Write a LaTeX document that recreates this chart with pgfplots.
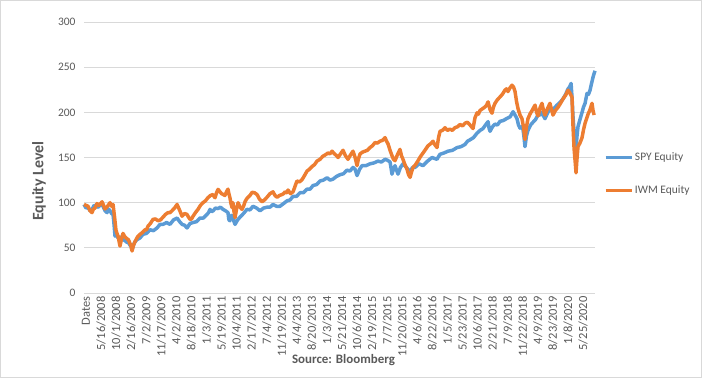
\documentclass[border=0pt]{standalone}
\usepackage{fontspec}
\setmainfont{Carlito}
\usepackage{pgfplots}
\pgfplotsset{compat=1.18}
\definecolor{spy}{HTML}{5B9BD5}
\definecolor{iwm}{HTML}{ED7D31}
\definecolor{txt}{HTML}{595959}
\definecolor{gridc}{HTML}{D9D9D9}
\begin{document}
\begin{tikzpicture}[x=1bp,y=1bp]
\useasboundingbox (-84,-85) rectangle (618,293);
\draw[gridc,line width=0.75bp] (-83.6,-84.6) rectangle (617.6,292.6);
\begin{axis}[
  at={(0,0)}, anchor=south west,
  scale only axis, width=511bp, height=271bp,
  xmin=0, xmax=3393, ymin=0, ymax=300,
  ytick={0,50,...,300},
  xtick={0,100,...,3300},
  xticklabels={Dates,5/16/2008,10/1/2008,2/16/2009,7/2/2009,11/17/2009,4/2/2010,8/18/2010,1/3/2011,5/19/2011,10/4/2011,2/17/2012,7/4/2012,11/19/2012,4/4/2013,8/20/2013,1/3/2014,5/21/2014,10/6/2014,2/19/2015,7/7/2015,11/20/2015,4/6/2016,8/22/2016,1/5/2017,5/23/2017,10/6/2017,2/21/2018,7/9/2018,11/22/2018,4/9/2019,8/23/2019,1/8/2020,5/25/2020},
  axis line style={draw=none},
  major tick length=0pt,
  ymajorgrids, grid style={gridc, line width=0.75bp},
  /pgf/number format/assume math mode=true,
  tick label style={text=txt},
  yticklabel style={anchor=east, xshift=-5bp, font=\fontsize{11.5}{11.5}\selectfont},
  xticklabel style={rotate=90, anchor=east, yshift=-2bp, font=\fontsize{12.5}{12.5}\selectfont},
  legend style={at={(1.018,0.439)}, anchor=west, draw=none, fill=none,
    font=\fontsize{11.5}{11.5}\selectfont, text=txt, row sep=20bp, inner sep=0pt},
  legend cell align=left,
  legend image code/.code={\draw[#1, line width=2.6pt] (0bp,0bp) -- (26bp,0bp);},
  clip=false,
]
\addplot[spy, line width=3.5pt, line join=round] table {
0 98
14 94
27 95
40 91
53 92
66 97
80 96
96 95
113 99
126 96
140 91
153 89
163 93
173 91
183 88
193 87
200 75
206 63
216 64
226 61
242 62
259 59
272 58
286 56
295 56
305 53
312 52
319 48
335 56
352 59
372 61
392 65
415 66
438 70
461 69
485 72
505 76
525 76
548 78
571 76
595 81
618 83
635 79
651 76
668 75
684 72
704 77
724 78
747 79
770 83
793 83
817 87
827 89
837 92.6
847 90
857 91
873 94
890 93.5
906 95
923 92.6
940 91
956 89
962 81
969 80
979 86
989 84
996 79
1003 76
1020 81
1036 84
1059 88
1082 92.6
1102 92
1122 96
1146 94
1169 91
1192 94
1215 95
1235 95
1255 98
1278 96
1301 96
1325 99
1348 102
1368 103
1388 107
1411 107
1434 111
1457 111
1481 115
1501 115
1521 119
1544 120
1567 124
1590 125
1614 127.6
1633 125
1653 126
1676 129
1700 131
1723 132
1746 136
1766 135
1786 139
1800 137
1813 130
1830 137
1846 141
1872 141
1899 143
1925 144
1952 146
1975 145
1999 148
2015 147
2032 145
2040 137
2045 131.6
2055 137
2065 141
2075 136
2085 131.6
2101 139
2118 143
2141 139
2165 134
2181 139
2198 139
2224 143
2251 141
2281 146
2311 150
2327 149
2344 148
2354 151
2364 153.6
2390 155
2417 157
2447 158
2477 161
2503 162
2530 164.5
2546 168
2563 169.6
2586 172
2610 177
2630 180
2649 182
2666 186
2683 189.7
2690 182
2696 179
2712 184
2729 187
2745 186
2762 190
2785 191
2809 193.4
2829 195
2849 200.7
2862 197
2875 193
2885 186
2895 182.5
2905 184
2915 181
2922 172
2928 162
2938 174
2948 180
2965 186
2981 189
2998 192
3015 197.5
3028 197
3041 200
3051 196
3061 193
3077 199
3094 204
3118 204
3141 208
3161 211
3181 215
3198 220
3214 226
3224 228
3234 232
3241 215
3247 195
3257 172
3267 159
3273 173
3280 184
3293 192
3307 200
3317 206
3327 210
3334 216
3340 221
3350 220
3360 224.5
3370 232
3380 239
3387 243
3393 246
};
\addlegendentry{SPY Equity}
\addplot[iwm, line width=3.5pt, line join=round] table {
0 98
14 97
27 96
40 91
53 89
63 93
73 94
86 99
100 97
110 99
120 101
130 97
139 93
156 96
173 100
183 96
193 98
203 84
212 70
219 66
226 63
232 58
239 52
249 60
259 66
272 62
286 60
295 59
305 55
312 52
319 46.5
329 53
339 57
355 62
372 65
388 67
405 70
415 70
425 74
441 77
458 81.5
474 82
491 80
508 81
525 84
541 87
558 89
571 89
584 91
601 94
618 98
634 92
651 85
667 88
684 87
694 84
704 81.5
714 82
724 85
740 89
757 92.6
773 97
790 100
806 102
823 105.5
840 108
857 109
863 107
870 105.5
880 111
890 114.7
913 110
936 108
946 112
956 115
962 110
969 105.5
976 99
983 94.5
986 98
989 100
996 90
1003 83.5
1013 93
1023 100
1036 95
1049 92.6
1059 96
1069 101
1079 104
1089 106
1102 108
1116 111.5
1132 111
1149 109
1165 104
1182 101
1198 103
1215 106
1235 110
1255 112
1268 108
1282 106
1298 108
1315 109
1325 110
1335 112
1345 111
1355 114
1371 110
1388 112
1401 118
1414 124
1431 123
1448 125.5
1464 130
1481 135
1497 137
1514 140
1530 142
1547 146
1567 148
1587 151.5
1603 153
1620 155
1633 154
1647 157
1657 155
1667 153.5
1677 152
1687 150
1703 154
1720 158
1736 152
1753 148
1770 153
1786 157
1800 150
1813 141
1823 149
1833 154
1850 156
1866 157
1882 158
1899 161
1915 163
1932 166.5
1948 166
1965 168
1982 169
1999 172
2009 168
2019 165
2032 158
2045 152
2055 148
2065 146.5
2081 153
2098 159
2108 152
2118 148
2131 142
2145 137
2155 131
2165 128
2175 134
2185 139
2201 142
2218 146.5
2234 151
2251 155
2268 159
2284 163
2300 165
2317 168
2330 164
2344 161
2354 172
2364 179
2380 180
2397 183
2413 180
2430 181.5
2446 180
2463 183
2480 184
2497 186.6
2513 185
2530 188
2546 189
2563 186
2573 184
2583 182
2596 194
2610 199.5
2619 198
2629 202
2646 204
2663 206
2673 208
2683 211.6
2696 203
2709 199
2719 206
2729 210
2745 214
2762 217
2778 220
2795 224.5
2805 226
2815 223
2828 227
2842 230
2852 228
2862 223
2872 212
2882 204
2895 197
2908 193
2918 184
2928 170
2938 184
2948 193
2961 198
2975 202
2985 205
2995 208
3005 200
3015 196
3028 205
3041 210
3051 202
3061 197
3077 204
3094 210
3104 203
3114 197
3130 202
3147 205.5
3164 210
3181 215
3198 219
3214 224.5
3227 221
3240 217
3247 184
3254 160
3260 148
3267 133
3273 148
3280 162
3293 166
3307 172
3317 181
3327 188
3337 193
3347 198
3360 203
3373 210
3380 202
3387 197
};
\addlegendentry{IWM Equity}
\end{axis}
\node[rotate=90, text=txt, font=\bfseries\fontsize{16}{16}\selectfont] at (-45,112) {Equity Level};
\node[text=txt, font=\bfseries\fontsize{13}{13}\selectfont] at (259.5,-67) {Source: Bloomberg};
\end{tikzpicture}
\end{document}
